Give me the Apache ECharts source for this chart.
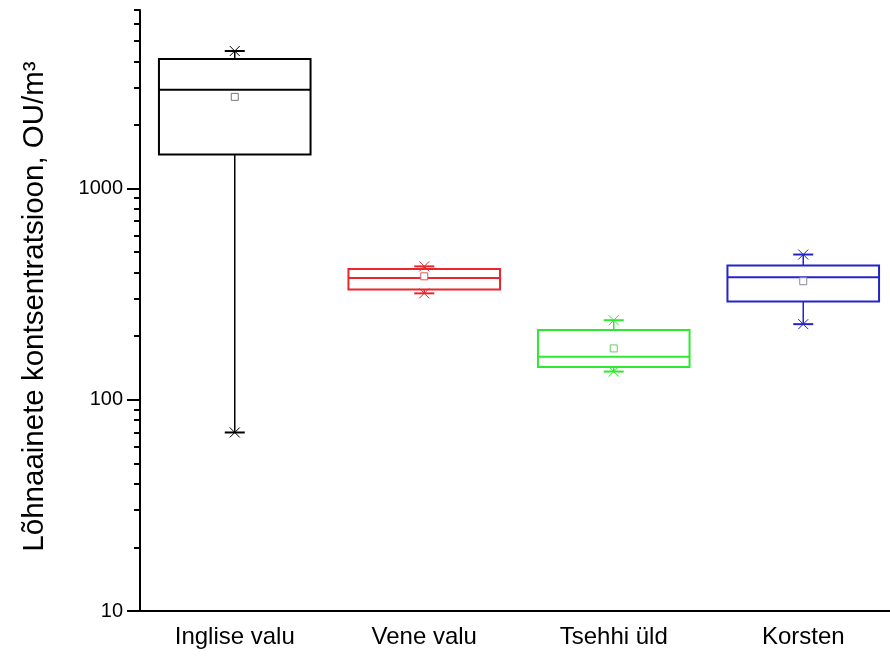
<!DOCTYPE html>
<html>
<head>
<meta charset="utf-8">
<script src="https://cdn.jsdelivr.net/npm/echarts@6/dist/echarts.min.js"></script>
<style>
  html, body { margin: 0; padding: 0; background: #fff; }
  #main { width: 890px; height: 657px; }
</style>
</head>
<body>
<div id="main"></div>
<script>
// values (OU/m3)
const categories = ['Inglise valu', 'Vene valu', 'Tsehhi üld', 'Korsten']
const minVals = [70, 319, 136, 228]
const q1Vals = [1447, 333, 143, 292]
const medianVals = [2931, 377, 160, 380]
const q3Vals = [4105, 416, 214, 432]
const maxVals = [4477, 428, 238, 487]
const meanVals = [2716, 384, 175, 364]
const majorTicks = [10, 100, 1000]
const minorTicks = [20, 30, 40, 50, 60, 70, 80, 90, 200, 300, 400, 500, 600, 700, 800, 900, 2000, 3000, 4000, 5000, 6000, 7000]

const boxColors = ['#000000', '#e8262b', '#2fe82f', '#2424c8']
const meanColors = ['#777777', '#d85a5a', '#6acb6a', '#8a8a9a']

const boxData = categories.map((c, i) => [i, minVals[i], q1Vals[i], medianVals[i], q3Vals[i], maxVals[i], meanVals[i]])

function renderBox(params, api) {
  const i = api.value(0)
  const color = boxColors[i]
  const p0 = api.coord([0, 100])
  const p1 = api.coord([1, 100])
  const band = p1[0] - p0[0]
  const half = band * 0.4
  const cx = api.coord([i, 100])[0]
  const yMin = api.coord([i, api.value(1)])[1]
  const yQ1 = api.coord([i, api.value(2)])[1]
  const yMed = api.coord([i, api.value(3)])[1]
  const yQ3 = api.coord([i, api.value(4)])[1]
  const yMax = api.coord([i, api.value(5)])[1]
  const yMean = api.coord([i, api.value(6)])[1]
  const lw = 2
  const line = (x1, y1, x2, y2, w) => ({
    type: 'line',
    shape: {x1: x1, y1: y1, x2: x2, y2: y2},
    style: {stroke: color, lineWidth: w || 1.5}
  })
  const star = (y) => [
    line(cx - 10, y, cx + 10, y, 2),
    line(cx - 5, y - 5, cx + 5, y + 5, 1),
    line(cx - 5, y + 5, cx + 5, y - 5, 1)
  ]
  return {
    type: 'group',
    children: [
      line(cx, yQ3, cx, yMax),
      line(cx, yQ1, cx, yMin),
      {
        type: 'rect',
        shape: {x: cx - half, y: yQ3, width: half * 2, height: yQ1 - yQ3},
        style: {fill: 'none', stroke: color, lineWidth: lw}
      },
      line(cx - half, yMed, cx + half, yMed, lw),
      ...star(yMax),
      ...star(yMin),
      {
        type: 'rect',
        shape: {x: cx - 3.5, y: yMean - 3.5, width: 7, height: 7},
        style: {fill: '#fff', stroke: meanColors[i], lineWidth: 1}
      }
    ]
  }
}

const myChart = echarts.init(document.getElementById('main'))
const option = {
  animation: false,
  textStyle: {fontFamily: 'Liberation Sans, Arial, sans-serif'},
  grid: {left: 140, top: 10, bottom: 46, width: 758, outerBoundsMode: 'none', containLabel: false},
  xAxis: {
    type: 'category',
    data: categories,
    axisLine: {lineStyle: {color: '#000', width: 2}},
    axisTick: {alignWithLabel: true, length: 12, lineStyle: {color: '#000', width: 2}},
    axisLabel: {color: '#000', fontSize: 24, margin: 14}
  },
  yAxis: [
    {
      type: 'log',
      logBase: 10,
      min: 10,
      max: 7000,
      position: 'left',
      axisLine: {show: false},
      axisTick: {show: true, length: 6, customValues: minorTicks, lineStyle: {color: '#000', width: 2}},
      axisLabel: {show: false},
      splitLine: {show: false}
    },
    {
      type: 'log',
      logBase: 10,
      min: 10,
      max: 7000,
      position: 'left',
      name: 'Lõhnaainete kontsentratsioon, OU/m³',
      nameLocation: 'middle',
      nameGap: 90,
      nameTextStyle: {color: '#000', fontSize: 29.5, padding: [0, 0, 0, 8]},
      axisLine: {show: true, lineStyle: {color: '#000', width: 2}},
      axisTick: {show: true, length: 13, customValues: majorTicks, lineStyle: {color: '#000', width: 2}},
      axisLabel: {
        color: '#000',
        fontSize: 20,
        margin: 17,
        customValues: majorTicks,
        formatter: function (v) { return String(Math.round(v)) }
      },
      splitLine: {show: false}
    }
  ],
  series: [
    {
      type: 'custom',
      renderItem: renderBox,
      data: boxData,
      yAxisIndex: 1,
      encode: {x: 0, y: [1, 2, 3, 4, 5]},
      clip: false
    }
  ]
}
myChart.setOption(option)
window.addEventListener('resize', function () {
  myChart.resize()
})
</script>
</body>
</html>
